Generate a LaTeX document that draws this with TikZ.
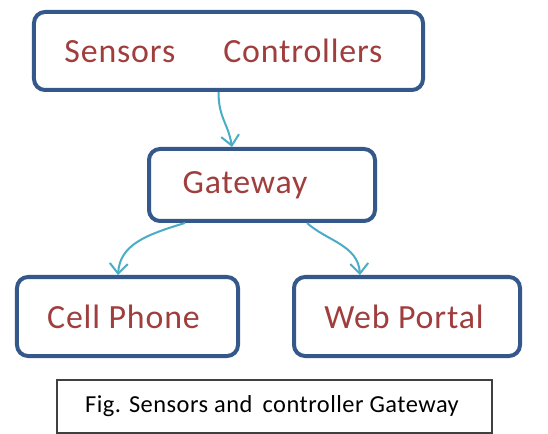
\documentclass[tikz,border=0pt]{standalone}
\usepackage{fontspec}
\usetikzlibrary{arrows.meta,calc}
\newfontfamily\boxfont[LetterSpace=2.5]{Carlito}
\newfontfamily\capfont[LetterSpace=2]{Carlito}
\definecolor{boxblue}{RGB}{52,88,138}
\definecolor{txtred}{RGB}{160,62,62}
\definecolor{arrteal}{RGB}{75,172,198}
\tikzset{
  box/.style={draw=boxblue, line width=4bp, rounded corners=11bp, fill=white,
    font=\boxfont\fontsize{34}{38}\selectfont, text=txtred, inner sep=0pt},
  capbox/.style={draw=black!75, line width=1.5bp, fill=white,
    font=\capfont\fontsize{24.5}{28}\selectfont, text=black, inner sep=0pt},
  arr/.style={draw=arrteal, line width=2bp, -{Straight Barb[length=10bp,width=18bp,line width=2bp]}}
}
\begin{document}
\begin{tikzpicture}[x=1bp,y=-1bp]
\useasboundingbox (0,0) rectangle (548,434);
\node[box, minimum width=389bp, minimum height=78bp] (top) at (228.5,51) {Sensors\hspace{48bp}Controllers\kern10bp};
\node[box, minimum width=226bp, minimum height=72bp] (gw) at (262,185) {Gateway\kern34bp};
\node[box, minimum width=221bp, minimum height=79bp] (cp) at (127.5,316.5) {Cell Phone\kern8bp};
\node[box, minimum width=226bp, minimum height=79bp] (wp) at (407,316.5) {Web Portal\kern6bp};
\node[capbox, minimum width=435bp, minimum height=53bp] (cap) at (274.5,406.5) {Fig. Sensors and\, controller Gateway\kern5bp};
\draw[arr] ([xshift=-10bp]top.south) .. controls +(0,26) and +(-4,-24) .. ([xshift=-30bp]gw.north);
\draw[arr] ([xshift=-77bp]gw.south) .. controls +(-40,12) and +(2,-30) .. ([xshift=-9.5bp]cp.north);
\draw[arr] ([xshift=45bp]gw.south) .. controls +(20,18) and +(-2,-30) .. ([xshift=-47bp]wp.north);
\end{tikzpicture}
\end{document}
